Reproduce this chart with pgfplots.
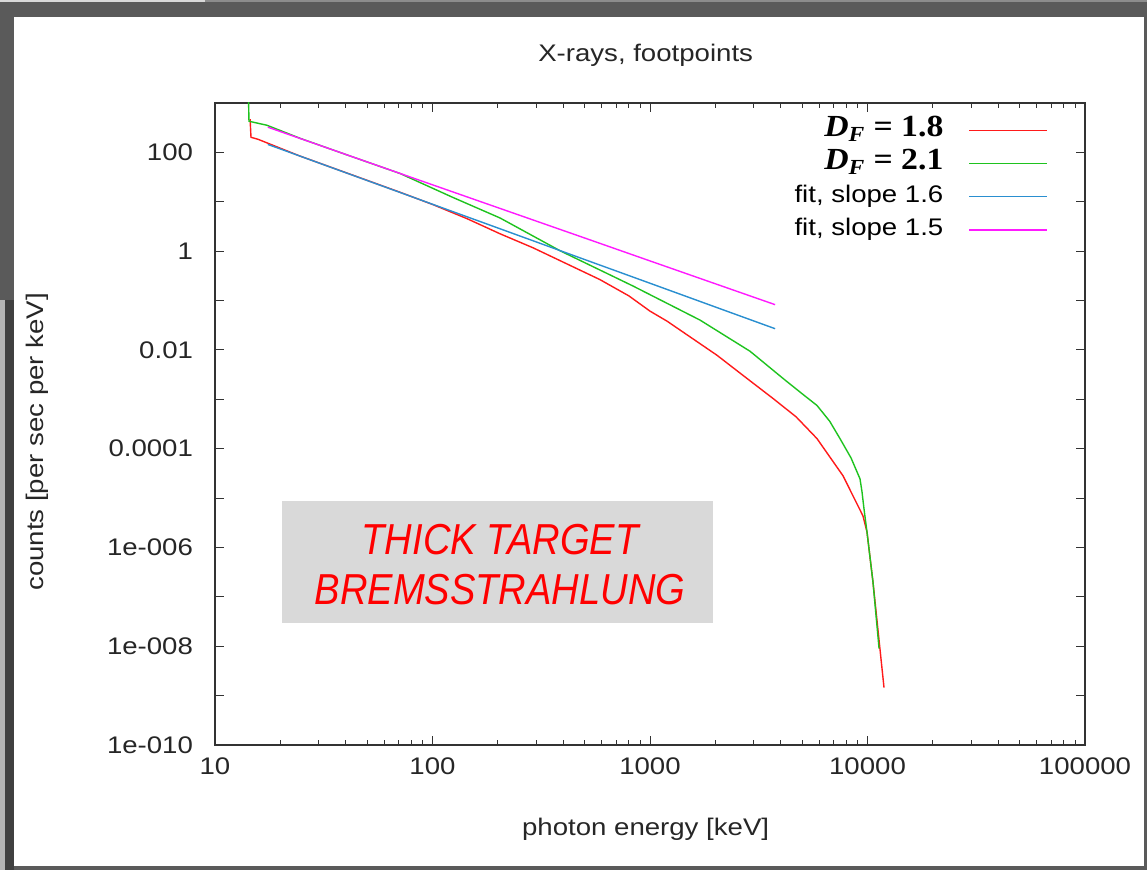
\documentclass[border=0pt]{standalone}
\usepackage{fontspec}
\setmainfont{Liberation Sans}[FakeStretch=1.15]
\newfontfamily\legserif{Liberation Serif}[FakeStretch=1.1]
\newfontfamily\bannerfont{Liberation Sans}[FakeStretch=0.88]
\usepackage{pgfplots}
\pgfplotsset{compat=1.18}

\definecolor{cRed}{HTML}{FF1A1A}
\definecolor{cGreen}{HTML}{1EC31E}
\definecolor{cBlue}{HTML}{2A8FD0}
\definecolor{cMag}{HTML}{FF1AFF}
\definecolor{frameGray}{HTML}{5A5A5A}
\definecolor{frameDark}{HTML}{404040}
\definecolor{frameLight}{HTML}{B4B4B4}
\definecolor{boxGray}{HTML}{D9D9D9}

% spectra: photon energy [keV], counts per sec per keV
\pgfplotstableread{
x y
14.5 469
14.64 202
15.77 184
24.6 84.2
41.8 36.2
70.9 15.6
100.5 8.75
144.1 4.55
204.3 2.25
289.8 1.17
589 0.265
800 0.124
1000 0.061
1197 0.0383
2032 0.0078
2677 0.00305
3678 0.00104
4700 4.4e-4
5859 1.6e-4
7717 2.83e-5
9535 4.34e-6
9947 2.05e-6
10600 1.97e-7
11417 8.57e-9
11910 1.45e-9
}\specA
\pgfplotstableread{
x y
14.2 3000
14.33 427
17.34 354
24.6 193
41.8 84.5
70.9 37.4
124.3 12.2
204.3 4.7
385.7 1.02
835 0.197
1698 0.0402
2883 0.0094
4088 0.00265
5000 0.0013
5859 7.5e-4
6700 3.6e-4
7473 1.6e-4
8400 6.5e-5
9237 2.45e-5
9434 1.34e-5
9636 6.03e-6
9947 2.05e-6
10600 1.97e-7
11300 9e-9
}\specB
\pgfplotstableread{
x y
17.5 144.8
20 117
50 27.0
100 8.91
200 2.94
500 0.678
1000 0.224
2000 0.0738
3760 0.0269
}\fitA
\pgfplotstableread{
x y
17.5 324
20 263.5
50 64.2
100 22.05
200 7.58
500 1.85
1000 0.634
2000 0.218
3760 0.0825
}\fitB

\begin{document}
\begin{tikzpicture}[font=\fontsize{18}{21.6}\selectfont]
% window frame and white panel (pixel-like units, origin at the axis corner)
\begin{scope}[x=0.75pt, y=-0.75pt, shift={(-161.25pt,558.75pt)}]
  \fill[frameGray] (0,0) rectangle (1147,870);
  \fill[frameDark] (5,300) rectangle (14,870);
  \fill[frameLight] (0,300) rectangle (5,870);
  \fill[black!15] (0,0) rectangle (205,2.5);
  \fill[black!45] (205,0) rectangle (1147,2.5);
  \fill[white] (14,17) rectangle (1144,866);
\end{scope}

\begin{axis}[
  at={(0,0)}, anchor=south west,
  scale only axis, width=652.5pt, height=481.5pt,
  xmode=log, ymode=log,
  xmin=10, xmax=100000, ymin=1e-10, ymax=1000,
  /pgf/number format/assume math mode=true,
  xtick={10,100,1000,10000,100000},
  xticklabels={10,100,1000,10000,100000},
  minor xtick={20,30,40,50,60,70,80,90,200,300,400,500,600,700,800,900,
    2000,3000,4000,5000,6000,7000,8000,9000,
    20000,30000,40000,50000,60000,70000,80000,90000},
  ytick={1e-10,1e-9,1e-8,1e-7,1e-6,1e-5,1e-4,1e-3,1e-2,1e-1,1,10,100,1000},
  yticklabels={1e-010,,1e-008,,1e-006,,0.0001,,0.01,,1,,100,},
  yminorticks=false,
  major tick length=6.75pt, minor tick length=3.4pt,
  tick style={black!80, line width=0.75pt},
  axis line style={black!80, line width=0.9pt},
  xticklabel style={yshift=-6pt, text=black!85},
  yticklabel style={xshift=-13pt, text=black!85},
  title={X-rays, footpoints},
  title style={at={(axis description cs:0.495,1.062)}, anchor=center, text=black!85},
  xlabel={photon energy [keV]},
  xlabel style={at={(axis description cs:0.495,-0.131)}, anchor=center, text=black!85},
  ylabel={counts [per sec per keV]},
  ylabel style={at={(axis description cs:-0.2046,0.472)}, anchor=center, text=black!85},
  legend cell align=right,
  legend plot pos=right,
  legend image code/.code={\draw[#1] (0pt,0pt) -- (58.5pt,0pt);},
  legend style={draw=none, fill=none, at={(axis description cs:0.9575,0.975)},
    anchor=north east, inner sep=0pt, row sep=7.8pt,
    nodes={inner sep=0pt, text height=13pt, text depth=4pt},
    /tikz/every odd column/.append style={column sep=18.75pt}},
]
\addplot[cRed, line width=1.05pt] table[x=x, y=y] {\specA};
\addlegendentry{{\legserif\fontsize{23}{26}\selectfont\bfseries\itshape D\textsubscript{F}\upshape\ = 1.8}}
\addplot[cGreen, line width=1.05pt] table[x=x, y=y] {\specB};
\addlegendentry{{\legserif\fontsize{23}{26}\selectfont\bfseries\itshape D\textsubscript{F}\upshape\ = 2.1}}
\addplot[cBlue, line width=1.05pt] table[x=x, y=y] {\fitA};
\addlegendentry{fit, slope 1.6}
\addplot[cMag, line width=1.05pt] table[x=x, y=y] {\fitB};
\addlegendentry{fit, slope 1.5}
\end{axis}

% caption box
\begin{scope}[x=0.75pt, y=-0.75pt, shift={(-161.25pt,558.75pt)}]
  \fill[boxGray] (282,501) rectangle (713,623);
  \node[text=red, font=\bannerfont\fontsize{32.5}{36}\selectfont\itshape] at (500,540) {THICK TARGET};
  \node[text=red, font=\bannerfont\fontsize{32.5}{36}\selectfont\itshape] at (500,590) {BREMSSTRAHLUNG};
\end{scope}
\end{tikzpicture}
\end{document}
